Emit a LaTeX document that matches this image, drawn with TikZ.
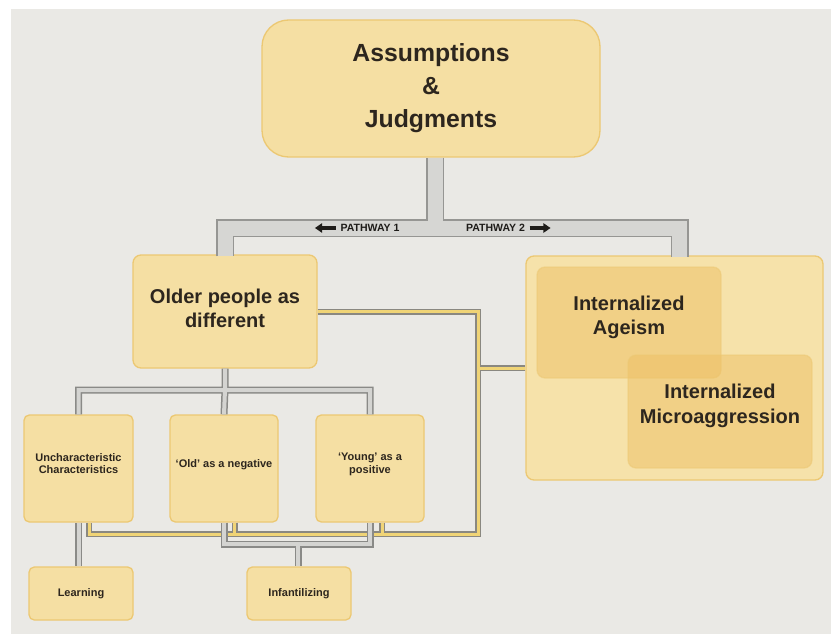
\documentclass[tikz,border=0pt]{standalone}
\usepackage{fontspec}
\setmainfont{Liberation Sans}
\usetikzlibrary{positioning, arrows.meta}

\begin{document}
\begin{tikzpicture}[x=0.75pt,y=0.75pt,yscale=-1,xscale=1,
    box/.style={draw={rgb, 255:red, 236; green, 200; blue, 115 }, line width=1pt, fill={rgb, 255:red, 245; green, 223; blue, 163 }, rounded corners=4pt, inner sep=0pt, align=center, text={rgb, 255:red, 45; green, 38; blue, 30 }},
    bigbox/.style={box, rounded corners=6pt, font=\fontsize{15}{18.5}\selectfont\bfseries},
    smallbox/.style={box, font=\fontsize{8.25}{9.6}\selectfont\bfseries},
    innerbox/.style={bigbox, fill={rgb, 255:red, 238; green, 192; blue, 100 }, fill opacity=0.5, draw opacity=0.5, text opacity=1},
    pipe/.style={line width=11.25pt, draw={rgb, 255:red, 214; green, 214; blue, 211 }, preaction={draw={rgb, 255:red, 150; green, 150; blue, 147 }, line width=13.5pt}},
    greylink/.style={line width=3pt, draw={rgb, 255:red, 212; green, 212; blue, 209 }, preaction={draw={rgb, 255:red, 138; green, 138; blue, 135 }, line width=5.25pt}},
    yellowlink/.style={line width=2.25pt, draw={rgb, 255:red, 240; green, 212; blue, 118 }, preaction={draw={rgb, 255:red, 138; green, 136; blue, 128 }, line width=4.5pt}},
    pathlabel/.style={inner sep=3.3pt, font=\fontsize{7.9}{9}\selectfont\bfseries, text={rgb, 255:red, 30; green, 28; blue, 25 }},
    flow/.style={-{Triangle[length=5.5pt,width=7pt]}, line width=3pt, draw={rgb, 255:red, 30; green, 28; blue, 25 }}
  ]
    \useasboundingbox (0,0) rectangle (831,638);
    %Shape: Rectangle [background]
    \fill [white] (0,0) rectangle (831,638);
    \fill [fill={rgb, 255:red, 234; green, 233; blue, 229 }] (11,9) rectangle (831,634);

    %Shape: Rounded Rectangle [top]
    \node [box, rounded corners=20pt, minimum width=253.5pt, minimum height=102.75pt, font=\fontsize{18.6}{24.75}\selectfont\bfseries] (top) at (431,88.5) {Assumptions\\\&\\Judgments};
    %Shape: Rounded Rectangle [pathway 1]
    \node [bigbox, minimum width=138pt, minimum height=84.75pt, text depth=4.7pt] (older) at (225,311.5) {Older people as\\different};
    %Shape: Rounded Rectangle [pathway 2]
    \node [box, rounded corners=6pt, fill={rgb, 255:red, 246; green, 226; blue, 170 }, minimum width=222.75pt, minimum height=168pt] (right) at (674.5,368) {};
    \node [innerbox, minimum width=138pt, minimum height=83.25pt, text depth=11pt] (ageism) at (629,322.5) {Internalized\\Ageism};
    \node [innerbox, minimum width=138pt, minimum height=84.75pt, text depth=12pt] (micro) at (720,411.5) {Internalized\\Microaggression};

    %Shape: Rectangle [middle row]
    \node [smallbox, minimum width=81.75pt, minimum height=80.25pt, text depth=7.6pt] (unchar) at (78.5,468.5) {Uncharacteristic\\Characteristics};
    \node [smallbox, minimum width=81pt, minimum height=80.25pt, text depth=7.6pt] (oldneg) at (224,468.5) {`Old' as a negative};
    \node [smallbox, minimum width=81pt, minimum height=80.25pt, text depth=7.6pt] (young) at (370,468.5) {`Young' as a\\positive};
    %Shape: Rectangle [bottom row]
    \node [smallbox, minimum width=78pt, minimum height=39.75pt] (learning) at (81,593.5) {Learning};
    \node [smallbox, minimum width=78pt, minimum height=39.75pt] (infant) at (299,593.5) {Infantilizing};

    % Joints
    \coordinate (split) at (435,228);
    \coordinate (fork) at (225,390);
    \coordinate (infork) at (298,544);
    \coordinate (bend) at (478,534);

    %Straight Lines [pathways]
    \draw [pipe] (top.south -| split) -- (split) ([yshift=1.5pt]older.north) |- (split) -| ([xshift=4pt,yshift=1.5pt]right.north);
    %Straight Lines [yellow]
    \draw [yellowlink] (older.east) -| (bend) -| ([xshift=8pt]unchar.south) ([xshift=8pt]oldneg.south) |- (bend) ([xshift=9pt]young.south) |- (bend) (right.west) -- (right.west -| bend);
    %Straight Lines [grey]
    \draw [greylink] (older.south) -- (fork) (unchar.north) |- (fork) -| (young.north) (fork) -- (oldneg.north);
    \draw [greylink] (unchar.south) -- (unchar.south |- learning.north);
    \draw [greylink] (oldneg.south) |- (infork) -| (young.south) (infork) -- (infork |- infant.north);

    % Text Node
    \node [pathlabel] (path1) at (370,228) {PATHWAY 1};
    % Text Node
    \node [pathlabel] (path2) at (495.5,228) {PATHWAY 2};
    \draw [flow] (path1.west) -- ++(-21,0);
    \draw [flow] (path2.east) -- ++(21,0);

\end{tikzpicture}
\end{document}
